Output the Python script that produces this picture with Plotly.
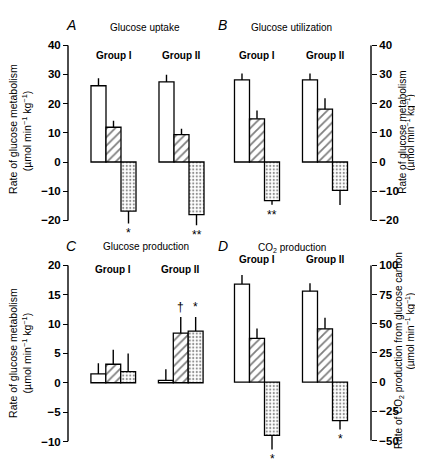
import plotly.graph_objects as go

W, H = 423, 459
groups = ["Group I", "Group II"]

# Panel A: Glucose uptake
A_white = [26.1, 27.4]; A_white_err = [2.6, 2.5]
A_hatch = [11.9, 9.4];  A_hatch_err = [2.2, 2.0]
A_dot = [-16.8, -18.0]; A_dot_err = [4.2, 3.6]
# Panel B: Glucose utilization
B_white = [28.1, 28.1]; B_white_err = [2.2, 2.2]
B_hatch = [14.8, 18.1]; B_hatch_err = [2.8, 3.7]
B_dot = [-13.2, -9.7];  B_dot_err = [1.4, 5.0]
# Panel C: Glucose production
C_white = [1.5, 0.4];   C_white_err = [1.8, 1.9]
C_hatch = [3.15, 8.45]; C_hatch_err = [2.45, 2.75]
C_dot = [1.9, 8.8];     C_dot_err = [3.1, 2.4]
# Panel D: CO2 production
D_white = [83.9, 77.8]; D_white_err = [7.8, 6.9]
D_hatch = [37.5, 45.6]; D_hatch_err = [8.3, 9.4]
D_dot = [-45.6, -33.0]; D_dot_err = [12.0, 7.5]

A_ticks = [40, 30, 20, 10, 0, -10, -20]
B_ticks = [40, 30, 20, 10, 0, -10, -20]
C_ticks = [20, 15, 10, 5, 0, -5, -10]
D_ticks = [100, 75, 50, 25, 0, -25, -50]

FONT = "Liberation Sans, Arial, sans-serif"

def px(x):
    return x / W

def py(y):
    return 1 - y / H

fig = go.Figure()

# name, data, ticks, range, xdomain px, ydomain px (top,bottom), axis x px, side
panels = [
    ("1", (A_white, A_white_err, A_hatch, A_hatch_err, A_dot, A_dot_err), A_ticks,
     [-25, 40], (71.5, 207.5), (32, 227), 60, "left"),
    ("2", (B_white, B_white_err, B_hatch, B_hatch_err, B_dot, B_dot_err), B_ticks,
     [-25, 40], (215, 351), (32, 227), 363, "right"),
    ("3", (C_white, C_white_err, C_hatch, C_hatch_err, C_dot, C_dot_err), C_ticks,
     [-10, 20], (71.5, 206.5), (258, 439), 60, "left"),
    ("4", (D_white, D_white_err, D_hatch, D_hatch_err, D_dot, D_dot_err), D_ticks,
     [-65, 100], (215, 351), (258, 456), 363, "right"),
]

def err(vals, e):
    up = [ee if v >= 0 else 0 for v, ee in zip(vals, e)]
    dn = [ee if v < 0 else 0 for v, ee in zip(vals, e)]
    return dict(type="data", symmetric=False, array=up, arrayminus=dn,
                width=0, thickness=1.4, color="black")

layout_axes = {}
shapes = []
for name, data, ticks, rng, xd, yd, ypos, side in panels:
    w, we, h, he, d, de = data
    xa = "x" if name == "1" else "x" + name
    ya = "y" if name == "1" else "y" + name
    line = dict(color="black", width=1.3)
    fig.add_trace(go.Bar(x=groups, y=w, xaxis=xa, yaxis=ya, showlegend=False,
                         marker=dict(color="white", line=line),
                         error_y=err(w, we)))
    fig.add_trace(go.Bar(x=groups, y=h, xaxis=xa, yaxis=ya, showlegend=False,
                         marker=dict(color="white", line=line,
                                     pattern=dict(shape="/", fgcolor="black", bgcolor="white",
                                                  size=6, solidity=0.3)),
                         error_y=err(h, he)))
    fig.add_trace(go.Bar(x=groups, y=d, xaxis=xa, yaxis=ya, showlegend=False,
                         marker=dict(color="white", line=line,
                                     pattern=dict(shape=".", fgcolor="#222", bgcolor="white",
                                                  size=3.5, solidity=0.3)),
                         error_y=err(d, de)))
    xkey = "xaxis" if name == "1" else "xaxis" + name
    ykey = "yaxis" if name == "1" else "yaxis" + name
    layout_axes[xkey] = dict(domain=[px(xd[0]), px(xd[1])], anchor=ya, visible=False,
                             type="category", range=[-0.5, 1.5], fixedrange=True)
    layout_axes[ykey] = dict(domain=[py(yd[1]), py(yd[0])], anchor="free",
                             position=px(ypos), side=side,
                             range=rng, tickvals=ticks,
                             showline=False,
                             ticks="outside", ticklen=5, tickwidth=1.4, tickcolor="black",
                             showgrid=False, zeroline=False,
                             tickfont=dict(family=FONT, size=11.5, color="black", weight="bold"))
    shapes.append(dict(type="line", xref="paper", yref=ya, x0=px(ypos), x1=px(ypos),
                       y0=min(ticks), y1=max(ticks), line=dict(color="black", width=1.4)))

fig.update_layout(**layout_axes)
fig.update_layout(width=W, height=H, margin=dict(l=0, r=0, t=0, b=0),
                  paper_bgcolor="white", plot_bgcolor="rgba(0,0,0,0)",
                  barmode="group", bargap=0.338, bargroupgap=0, shapes=shapes)

ann = []
def add_text(text, x, y, size=10, angle=0, italic=False, bold=False):
    t = text
    if bold:
        t = "<b>" + t + "</b>"
    if italic:
        t = "<i>" + t + "</i>"
    ann.append(dict(text=t, x=px(x), y=py(y), xref="paper", yref="paper",
                    showarrow=False, textangle=angle, xanchor="center", yanchor="middle",
                    font=dict(family=FONT, size=size, color="black")))

# Panel letters and titles
add_text("A", 63, 11, size=14, italic=True)
add_text("B", 215, 11, size=14, italic=True)
add_text("C", 63, 238, size=14, italic=True)
add_text("D", 215, 238, size=14, italic=True)
add_text("Glucose uptake", 137, 14, size=10)
add_text("Glucose utilization", 283, 14, size=10)
add_text("Glucose production", 138, 239, size=10)
add_text("CO<sub>2</sub> production", 284, 240, size=10)

# Axis titles (rotated; x given as the anchor point of the rotated box)
unit = "(µmol min<sup>−1</sup> kg<sup>−1</sup>)"
add_text("Rate of glucose metabolism", 5, 118, size=10.5, angle=-90)
add_text(unit, 18.5, 120, size=10.5, angle=-90)
add_text("Rate of glucose metabolism", 395, 122, size=10, angle=-90)
add_text(unit, 402, 122, size=10, angle=-90)
add_text("Rate of glucose metabolism", 5, 348, size=10.5, angle=-90)
add_text(unit, 18.5, 348, size=10.5, angle=-90)
add_text("Rate of CO<sub>2</sub> production from glucose carbon", 391, 346, size=10, angle=-90)
add_text(unit, 402, 326, size=10, angle=-90)

# Group labels
for xa, ypx in [("x", 43), ("x2", 43), ("x3", 262), ("x4", 252)]:
    for g in groups:
        ann.append(dict(text="<b>" + g + "</b>", x=g, xref=xa, y=py(ypx), yref="paper",
                        showarrow=False, xanchor="center", yanchor="middle",
                        font=dict(family=FONT, size=10, color="black")))

# Significance marks
def mark(text, xa, ya, g, y, shift, below=True):
    ann.append(dict(text=text, x=g, xref=xa, y=y, yref=ya, xshift=shift,
                    yshift=-1 if below else 1, showarrow=False, xanchor="center",
                    yanchor="top" if below else "bottom",
                    font=dict(family=FONT, size=12, color="black")))

mark("*", "x", "y", "Group I", A_dot[0] - A_dot_err[0], 15)
mark("**", "x", "y", "Group II", A_dot[1] - A_dot_err[1], 15)
mark("**", "x2", "y2", "Group I", B_dot[0] - B_dot_err[0], 15)
mark("†", "x3", "y3", "Group II", C_hatch[1] + C_hatch_err[1], 0, below=False)
mark("*", "x3", "y3", "Group II", C_dot[1] + C_dot_err[1], 15, below=False)
mark("*", "x4", "y4", "Group I", D_dot[0] - D_dot_err[0], 15)
mark("*", "x4", "y4", "Group II", D_dot[1] - D_dot_err[1], 15)

fig.update_layout(annotations=ann)
fig.write_html("out.html")
